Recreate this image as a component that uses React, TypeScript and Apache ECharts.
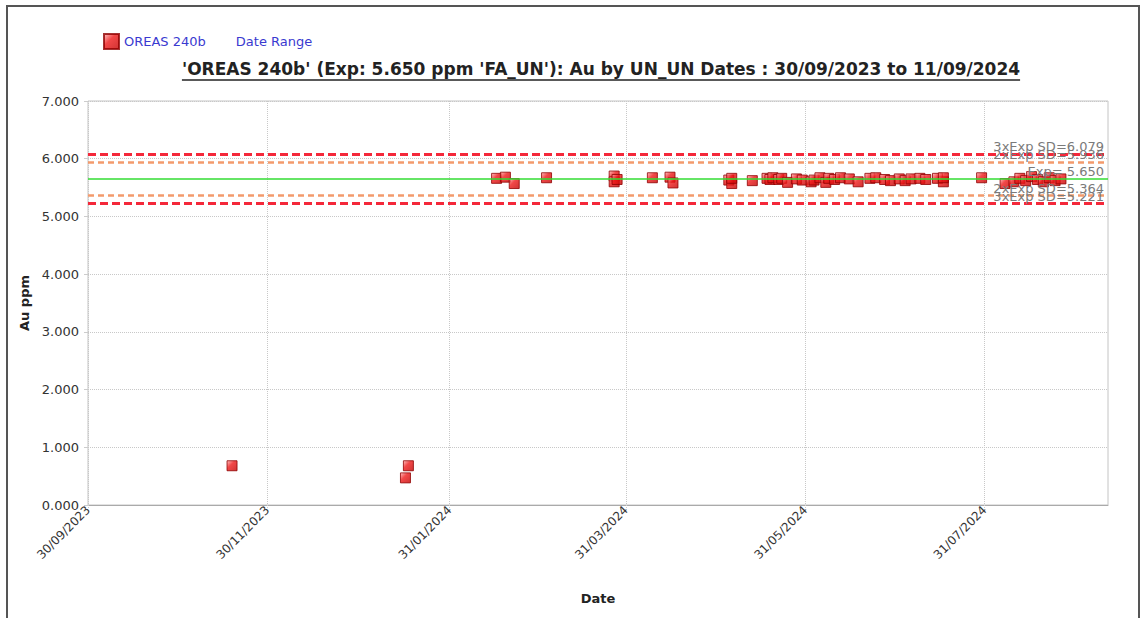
import React, { useEffect, useRef } from "react";
import * as echarts from "echarts";

const TITLE = "'OREAS 240b' (Exp: 5.650 ppm 'FA_UN'): Au by UN_UN Dates : 30/09/2023 to 11/09/2024";
const SERIES_NAME = "OREAS 240b";
const RANGE_NAME = "Date Range";
const X_MIN = "2023-09-30";
const X_MAX = "2024-09-11";
const X_TICKS = ["2023-09-30", "2023-11-30", "2024-01-31", "2024-03-31", "2024-05-31", "2024-07-31"];
const Y_MIN = 0;
const Y_MAX = 7;
const Y_INTERVAL = 1;

const POINT_DATES = [
  "2023-11-18", "2024-01-17", "2024-01-16",
  "2024-02-16", "2024-02-19", "2024-02-22", "2024-03-04",
  "2024-03-27", "2024-03-27", "2024-03-28", "2024-04-09", "2024-04-15", "2024-04-16",
  "2024-05-05", "2024-05-06", "2024-05-06", "2024-05-13",
  "2024-05-18", "2024-05-19", "2024-05-20", "2024-05-22", "2024-05-23", "2024-05-25",
  "2024-05-28", "2024-05-30", "2024-06-02", "2024-06-03", "2024-06-05", "2024-06-07",
  "2024-06-08", "2024-06-10", "2024-06-12", "2024-06-15", "2024-06-18",
  "2024-06-22", "2024-06-24", "2024-06-27", "2024-06-29", "2024-07-02",
  "2024-07-04", "2024-07-06", "2024-07-09", "2024-07-11", "2024-07-15", "2024-07-17", "2024-07-17",
  "2024-07-30", "2024-08-07", "2024-08-10", "2024-08-12", "2024-08-14", "2024-08-16",
  "2024-08-18", "2024-08-20", "2024-08-22", "2024-08-24", "2024-08-26",
];
const POINT_VALUES = [
  0.68, 0.68, 0.47,
  5.66, 5.68, 5.57, 5.67,
  5.70, 5.60, 5.64, 5.67, 5.68, 5.58,
  5.63, 5.57, 5.66, 5.62,
  5.66, 5.64, 5.67, 5.64, 5.66, 5.59,
  5.65, 5.63, 5.60, 5.63, 5.67, 5.59,
  5.66, 5.64, 5.67, 5.65, 5.60,
  5.66, 5.67, 5.64, 5.62, 5.65,
  5.62, 5.65, 5.66, 5.64, 5.66, 5.60, 5.67,
  5.67, 5.57, 5.60, 5.66, 5.62, 5.69,
  5.64, 5.60, 5.67, 5.62, 5.65,
];

const REF_LABELS = ["3xExp SD=6.079", "2xExp SD=5.936", "Exp= 5.650", "2xExp SD=5.364", "3xExp SD=5.221"];
const REF_VALUES = [6.079, 5.936, 5.65, 5.364, 5.221];
const REF_KINDS = ["sd3", "sd2", "exp", "sd2", "sd3"];

const ts = (s: string) => {
  const [y, m, d] = s.split("-").map(Number);
  return Date.UTC(y, m - 1, d);
};
const pad = (n: number) => (n < 10 ? "0" + n : "" + n);
const fmtDate = (v: number) => {
  const d = new Date(v);
  return pad(d.getUTCDate()) + "/" + pad(d.getUTCMonth() + 1) + "/" + d.getUTCFullYear();
};

const FONT = "'DejaVu Sans', Verdana, sans-serif";

export default function App() {
  const ref = useRef<HTMLDivElement>(null);
  useEffect(() => {
    document.body.style.margin = "0";
    if (!ref.current) return;
    const chart = echarts.init(ref.current, undefined, { renderer: "svg" });

    const canvas = document.createElement("canvas");
    const ctx = canvas.getContext("2d")!;
    ctx.font = "bold 17px 'DejaVu Sans'";
    const tw = ctx.measureText(TITLE).width;
    const titleCx = 601;

    const refStyle = (k: string) => {
      if (k === "sd3") return { color: "#f4283a", width: 3, type: [8, 4] as any };
      if (k === "sd2") return { color: "#f39a6c", width: 2.5, type: [6, 4] as any };
      return { color: "#33dd33", width: 1.5, type: "solid" as any };
    };

    const pointColor = new echarts.graphic.LinearGradient(0, 0, 1, 1, [
      { offset: 0, color: "#ffb4b4" },
      { offset: 0.4, color: "#ee1a1a" },
      { offset: 1, color: "#c40000" },
    ]);

    const tickVals = X_TICKS.map(ts);

    chart.setOption({
      animation: false,
      backgroundColor: "#ffffff",
      textStyle: { fontFamily: FONT },
      title: {
        text: TITLE,
        left: titleCx - tw / 2,
        top: 60,
        padding: 0,
        textStyle: { fontFamily: FONT, fontSize: 17, fontWeight: "bold", color: "#222" },
      },
      legend: {
        left: 103,
        top: 33,
        padding: 0,
        itemWidth: 15,
        itemHeight: 15,
        itemGap: 10,
        textStyle: { fontFamily: FONT, fontSize: 13, color: "#3a3ad0" },
        data: [
          { name: SERIES_NAME, icon: "rect" },
          { name: RANGE_NAME, icon: "none" },
        ],
        selectedMode: false,
      },
      graphic: [
        {
          type: "polyline",
          shape: { points: [[7, 640], [7, 6], [1139, 6], [1139, 640]] },
          style: { stroke: "#555", lineWidth: 2, fill: null },
          silent: true,
        },
        {
          type: "line",
          shape: { x1: titleCx - tw / 2, y1: 80, x2: titleCx + tw / 2, y2: 80 },
          style: { stroke: "#222", lineWidth: 1.5 },
          silent: true,
        },
      ],
      grid: {
        left: 88,
        top: 101,
        right: 36,
        bottom: 113,
        show: true,
        borderColor: "#c4c4c4",
        borderWidth: 1,
      },
      xAxis: {
        type: "value",
        min: ts(X_MIN),
        max: ts(X_MAX),
        name: "Date",
        nameLocation: "middle",
        nameGap: 87,
        nameTextStyle: { fontFamily: FONT, fontSize: 13, fontWeight: "bold", color: "#222" },
        axisLine: { show: true, lineStyle: { color: "#aaa" } },
        axisTick: {
          show: true,
          length: 4,
          customValues: tickVals,
          lineStyle: { color: "#ccc", type: "dotted" },
        },
        axisLabel: {
          customValues: tickVals,
          rotate: 45,
          formatter: (v: number) => fmtDate(v),
          fontFamily: FONT,
          fontSize: 12,
          color: "#333",
          margin: 3,
          hideOverlap: false,
        },
        splitLine: { show: true, lineStyle: { color: "#c8c8c8", type: "dotted", width: 1 } },
      },
      yAxis: {
        type: "value",
        min: Y_MIN,
        max: Y_MAX,
        interval: Y_INTERVAL,
        name: "Au ppm",
        nameLocation: "middle",
        nameGap: 55,
        nameTextStyle: { fontFamily: FONT, fontSize: 13, fontWeight: "bold", color: "#222" },
        axisLine: { show: false },
        axisTick: { show: true, length: 4, lineStyle: { color: "#ccc" } },
        axisLabel: {
          formatter: (v: number) => v.toFixed(3),
          fontFamily: FONT,
          fontSize: 13,
          color: "#333",
          margin: 9,
        },
        splitLine: { show: true, lineStyle: { color: "#c8c8c8", type: "dotted", width: 1 } },
      },
      series: [
        {
          name: RANGE_NAME,
          type: "line",
          data: [],
          z: 1,
          markLine: {
            silent: true,
            symbol: ["none", "none"],
            animation: false,
            data: REF_VALUES.map((v, i) => ({
              yAxis: v,
              lineStyle: refStyle(REF_KINDS[i]),
              label: {
                show: true,
                position: "insideEndTop",
                formatter: REF_LABELS[i],
                color: "#7a7a7a",
                fontFamily: FONT,
                fontSize: 13,
                distance: [4, 1],
              },
            })),
          },
        },
        {
          name: SERIES_NAME,
          type: "scatter",
          z: 3,
          symbol: "rect",
          symbolSize: 10,
          itemStyle: { color: pointColor, borderColor: "#8e0000", borderWidth: 1 },
          data: POINT_DATES.map((d, i) => [ts(d), POINT_VALUES[i]]),
        },
      ],
    });
    return () => chart.dispose();
  }, []);
  return <div ref={ref} style={{ width: 1144, height: 618 }} />;
}
